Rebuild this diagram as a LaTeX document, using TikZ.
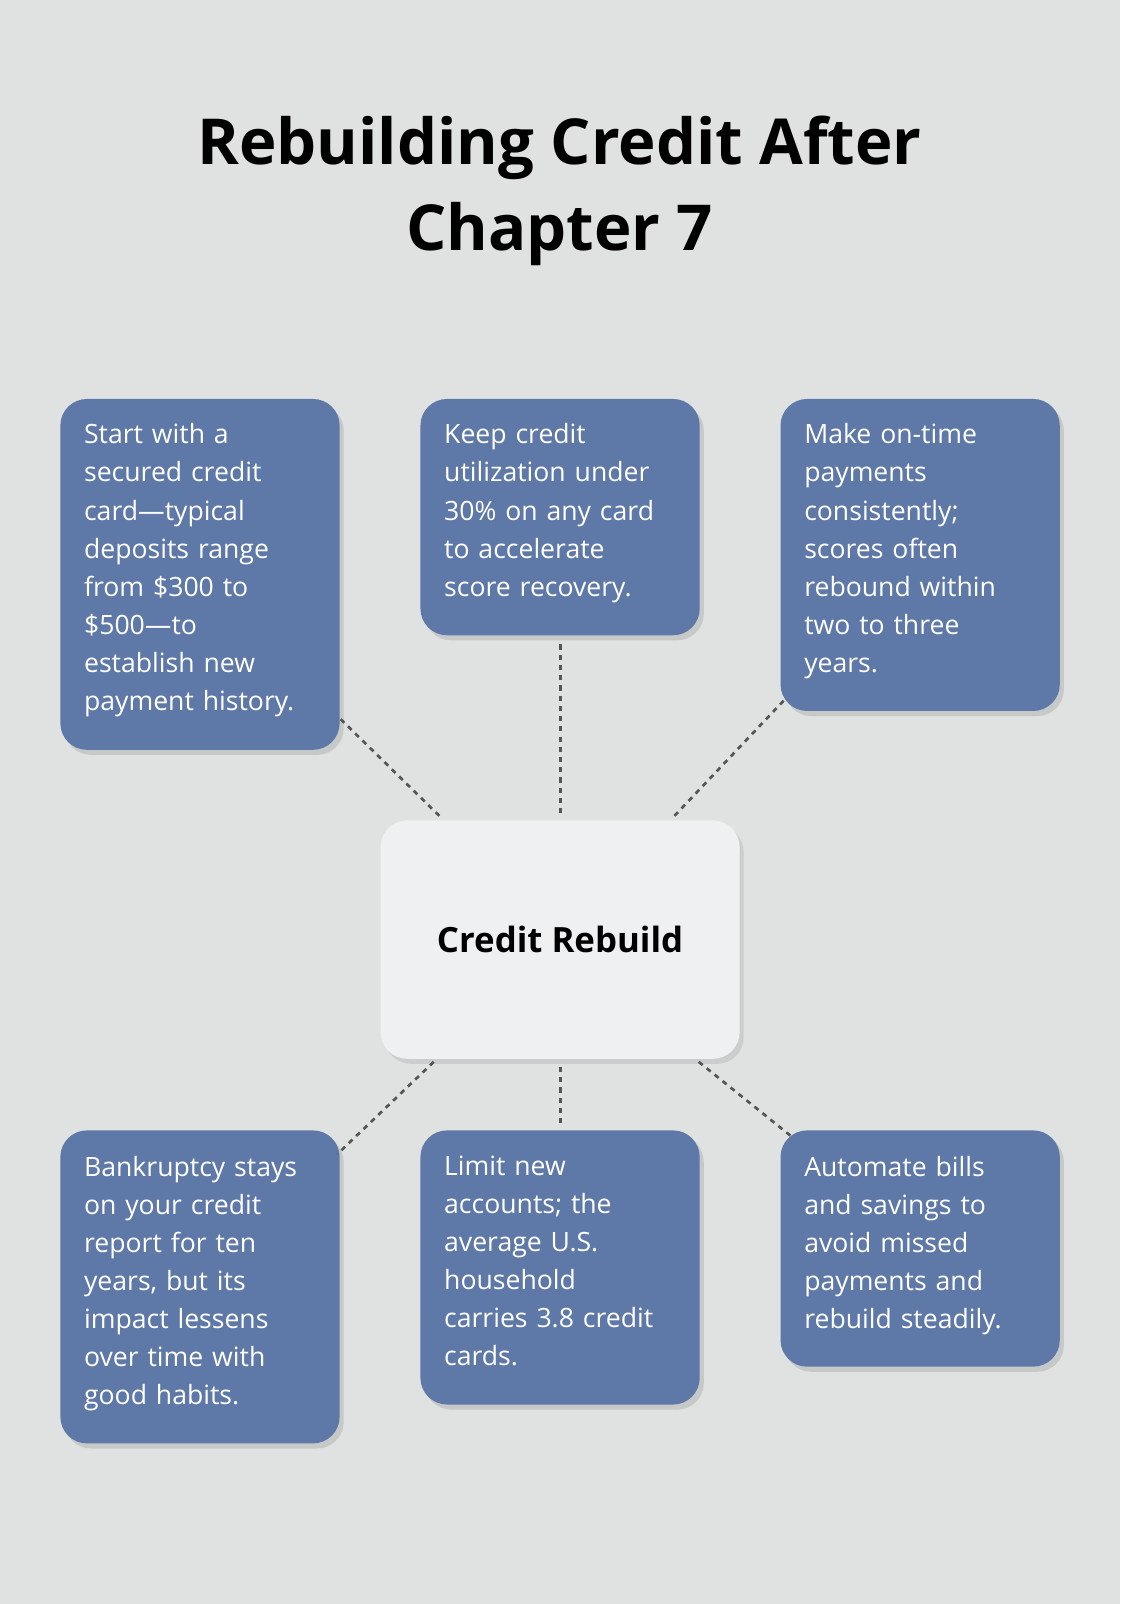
\documentclass[tikz,border=0pt]{standalone}
\usepackage{fontspec}
\setmainfont{Open Sans}
\usetikzlibrary{shadows}
\definecolor{bg}{HTML}{E0E2E1}
\definecolor{card}{HTML}{5E78A8}
\definecolor{ctr}{HTML}{EFF0F2}
\definecolor{ln}{HTML}{555555}
\begin{document}
\begin{tikzpicture}[x=1pt,y=-1pt,
 box/.style={fill=card,rounded corners=26pt,drop shadow={shadow xshift=4pt,shadow yshift=-5pt,opacity=0.25}},
 txt/.style={anchor=north west,text=white,align=left,text width=250pt,inner sep=0pt,font=\fontsize{26}{37.2}\selectfont},
 con/.style={ln,line width=2.6pt,dash pattern=on 5pt off 5pt}]
\fill[bg] (0,0) rectangle (1095,1568);
\useasboundingbox (0,0) rectangle (1095,1568);
\node[font=\fontsize{62}{84}\selectfont\bfseries,align=center] (title) at (547,187) {Rebuilding Credit After\\Chapter 7};
\node[box,minimum width=273pt,minimum height=343pt] (tl) at (195.5,561.5) {};
\node[box,minimum width=273pt,minimum height=231pt] (tm) at (547.5,505.5) {};
\node[box,minimum width=273pt,minimum height=305pt] (tr) at (899.5,542.5) {};
\node[box,minimum width=273pt,minimum height=306pt] (bl) at (195.5,1258) {};
\node[box,minimum width=273pt,minimum height=268pt] (bm) at (547.5,1239) {};
\node[box,minimum width=273pt,minimum height=231pt] (br) at (899.5,1220.5) {};
\node[fill=ctr,rounded corners=26pt,minimum width=351pt,minimum height=233pt,drop shadow={shadow xshift=4pt,shadow yshift=-5pt,opacity=0.2},font=\fontsize{34}{40}\selectfont\bfseries] (c) at (547.5,918.5) {Credit Rebuild};
\node[txt] (ttl) at (82,414) {Start with a\\secured credit\\card—typical\\deposits range\\from \$300 to\\\$500—to\\establish new\\payment history.};
\node[txt] (ttm) at (434,414) {Keep credit\\utilization under\\30\% on any card\\to accelerate\\score recovery.};
\node[txt] (ttr) at (786,414) {Make on-time\\payments\\consistently;\\scores often\\rebound within\\two to three\\years.};
\node[txt] (tbl) at (82,1130) {Bankruptcy stays\\on your credit\\report for ten\\years, but its\\impact lessens\\over time with\\good habits.};
\node[txt] (tbm) at (434,1130) {Limit new\\accounts; the\\average U.S.\\household\\carries 3.8 credit\\cards.};
\node[txt] (tbr) at (786,1130) {Automate bills\\and savings to\\avoid missed\\payments and\\rebuild steadily.};
\coordinate (a1) at (333,703); \coordinate (a2) at (432,800);
\coordinate (b1) at (548,630); \coordinate (b2) at (548,795);
\coordinate (c1) at (766,685); \coordinate (c2) at (657,800);
\coordinate (d1) at (424,1038); \coordinate (d2) at (330,1128);
\coordinate (e1) at (548,1043); \coordinate (e2) at (548,1100);
\coordinate (f1) at (683,1038); \coordinate (f2) at (775,1112);
\draw[con] (a1)--(a2); \draw[con] (b1)--(b2); \draw[con] (c1)--(c2);
\draw[con] (d1)--(d2); \draw[con] (e1)--(e2); \draw[con] (f1)--(f2);
\end{tikzpicture}
\end{document}
